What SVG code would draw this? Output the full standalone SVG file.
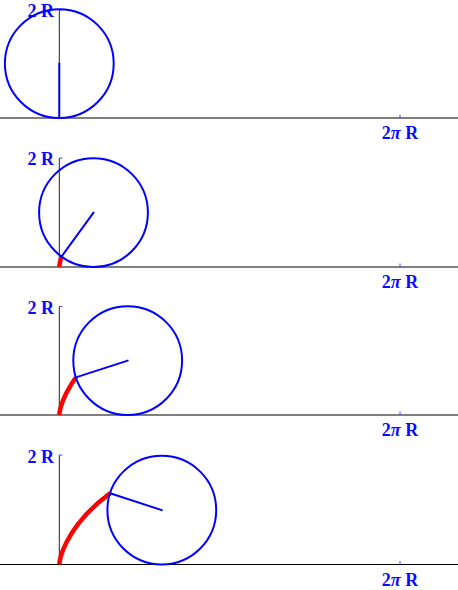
<svg xmlns="http://www.w3.org/2000/svg" width="458" height="590" viewBox="0 0 458 590">
<style>
.axis{stroke:#222;stroke-width:1;fill:none}
.base{stroke:#000;stroke-width:1.1;fill:none}
.tick{stroke:#4444ff;stroke-width:1;fill:none}
.wheel{stroke:#0000ff;stroke-width:2;fill:none}
.spoke{stroke:#0000ff;stroke-width:2;fill:none;stroke-linecap:round}
.trace{stroke:#ff0000;stroke-width:4.5;fill:none;stroke-linejoin:round;stroke-linecap:butt}
.lbl{font-family:"Liberation Serif","Times New Roman",serif;font-weight:bold;font-size:18px;fill:#0a0aff}
.pi{font-style:italic}
</style>
<rect width="458" height="590" fill="#ffffff"/>

<g id="panel1">
  <line class="base" x1="0" y1="118" x2="458" y2="118"/>
  <line class="axis" x1="59.3" y1="10" x2="59.3" y2="118"/>
  <line class="tick" x1="59.3" y1="10" x2="62.5" y2="10"/>
  <line class="tick" x1="400" y1="118" x2="400" y2="114.5"/>
  <text class="lbl" x="54" y="17" text-anchor="end">2 R</text>
  <text class="lbl" x="400" y="139" text-anchor="middle">2<tspan class="pi">π</tspan> R</text>
  <circle class="wheel" cx="59.3" cy="63.6" r="54.4"/>
  <line class="spoke" x1="59.3" y1="63.6" x2="59.3" y2="118"/>
</g>

<g id="panel2">
  <line class="base" x1="0" y1="267" x2="458" y2="267"/>
  <line class="axis" x1="59.3" y1="158" x2="59.3" y2="267"/>
  <line class="tick" x1="59.3" y1="158" x2="62.5" y2="158"/>
  <line class="tick" x1="400" y1="267" x2="400" y2="263.5"/>
  <text class="lbl" x="54" y="165" text-anchor="end">2 R</text>
  <text class="lbl" x="400" y="288" text-anchor="middle">2<tspan class="pi">π</tspan> R</text>
  <polyline class="trace" points="59.3,267 59.36,266.04 59.78,263.18 60.92,258.53 61.5,256.6"/>
  <circle class="wheel" cx="93.5" cy="212.6" r="54.4"/>
  <line class="spoke" x1="93.5" y1="212.6" x2="61.5" y2="256.6"/>
</g>

<g id="panel3">
  <line class="base" x1="0" y1="415" x2="458" y2="415"/>
  <line class="axis" x1="59.3" y1="306.5" x2="59.3" y2="415"/>
  <line class="tick" x1="59.3" y1="306.5" x2="62.5" y2="306.5"/>
  <line class="tick" x1="400" y1="415" x2="400" y2="411.5"/>
  <text class="lbl" x="54" y="314" text-anchor="end">2 R</text>
  <text class="lbl" x="400" y="436" text-anchor="middle">2<tspan class="pi">π</tspan> R</text>
  <polyline class="trace" points="59.3,415 59.36,414.04 59.78,411.18 60.92,406.53 63.08,400.26 66.56,392.58 71.61,383.76 75.9,377.4"/>
  <circle class="wheel" cx="127.7" cy="360.6" r="54.4"/>
  <line class="spoke" x1="127.7" y1="360.6" x2="75.9" y2="377.4"/>
</g>

<g id="panel4">
  <line class="base" x1="0" y1="564.5" x2="458" y2="564.5"/>
  <line class="axis" x1="59.3" y1="455" x2="59.3" y2="564.5"/>
  <line class="tick" x1="59.3" y1="455" x2="62.5" y2="455"/>
  <line class="tick" x1="400" y1="564.5" x2="400" y2="561"/>
  <text class="lbl" x="54" y="462.5" text-anchor="end">2 R</text>
  <text class="lbl" x="400" y="585.5" text-anchor="middle">2<tspan class="pi">π</tspan> R</text>
  <polyline class="trace" points="59.3,564.5 59.36,563.54 59.78,560.68 60.92,556.03 63.08,549.76 66.56,542.08 71.61,533.26 78.39,523.63 87.04,513.52 97.62,503.28 110.1,493.3"/>
  <circle class="wheel" cx="161.8" cy="510.1" r="54.4"/>
  <line class="spoke" x1="161.8" y1="510.1" x2="110.1" y2="493.3"/>
</g>
</svg>
